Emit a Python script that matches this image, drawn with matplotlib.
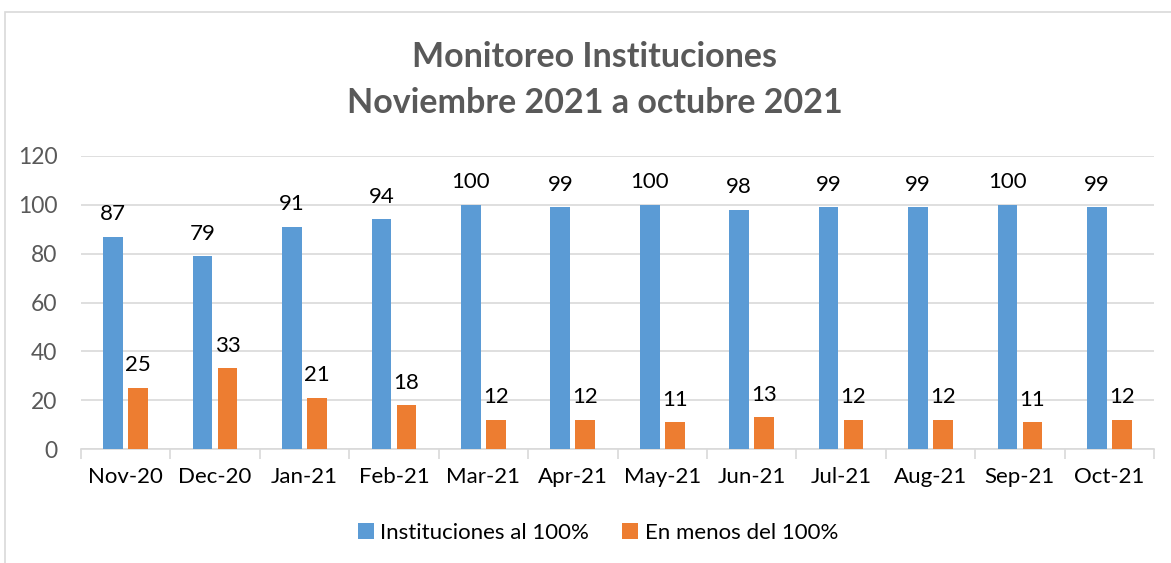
import matplotlib.pyplot as plt
import numpy as np
from matplotlib.patches import Rectangle

# datos
meses = ['Nov-20', 'Dec-20', 'Jan-21', 'Feb-21', 'Mar-21', 'Apr-21',
         'May-21', 'Jun-21', 'Jul-21', 'Aug-21', 'Sep-21', 'Oct-21']
al_100 = [87, 79, 91, 94, 100, 99, 100, 98, 99, 99, 100, 99]
menos_100 = [25, 33, 21, 18, 12, 12, 11, 13, 12, 12, 11, 12]
yticks = [0, 20, 40, 60, 80, 100, 120]

plt.rcParams['font.family'] = ['Lato', 'DejaVu Sans']

W, H = 1171, 563
fig = plt.figure(figsize=(W / 100, H / 100), dpi=100)
ax = fig.add_axes([81 / W, 1 - 449 / H, (1154 - 81) / W, (449 - 156) / H])

x = np.arange(len(meses))
bw = 0.22
azul = '#5B9BD5'
naranja = '#ED7D31'
b1 = ax.bar(x - 0.14, al_100, bw, color=azul, label='Instituciones al 100%', zorder=3)
b2 = ax.bar(x + 0.14, menos_100, bw, color=naranja, label='En menos del 100%', zorder=3)

for barras in (b1, b2):
    for r in barras:
        ax.annotate(str(int(r.get_height())),
                    (r.get_x() + r.get_width() / 2, r.get_height()),
                    xytext=(0, 9), textcoords='offset points',
                    ha='center', va='bottom', fontsize=16, color='#000000')

ax.set_xlim(-0.5, len(meses) - 0.5)
ax.set_ylim(0, 120)
ax.set_yticks(yticks)
ax.tick_params(axis='y', length=0, labelsize=16.5, labelcolor='#595959', pad=17)
ax.set_xticks(x)
ax.set_xticklabels(meses)
ax.tick_params(axis='x', length=0, labelsize=16, labelcolor='#000000', pad=13)
# marcas entre categorias
ax.set_xticks(np.arange(-0.5, len(meses), 1), minor=True)
ax.tick_params(axis='x', which='minor', length=7, color='#D9D9D9', width=1.2)

ax.grid(axis='y', color='#D9D9D9', linewidth=1.2, zorder=0)
for s in ['left', 'right', 'top']:
    ax.spines[s].set_visible(False)
ax.spines['bottom'].set_color('#D9D9D9')
ax.spines['bottom'].set_linewidth(1.2)

fig.text(595 / W, 1 - 57 / H, 'Monitoreo Instituciones', ha='center', va='center',
         fontsize=24.5, fontweight='bold', color='#595959')
fig.text(595 / W, 1 - 103 / H, 'Noviembre 2021 a octubre 2021', ha='center', va='center',
         fontsize=24.5, fontweight='bold', color='#595959')

fig.legend(handles=[b1, b2], loc='center', bbox_to_anchor=(598 / W, 1 - 533 / H),
           ncol=2, frameon=False, fontsize=16, handlelength=0.7, handleheight=0.7,
           handletextpad=0.3, columnspacing=1.5)

# borde del grafico
fig.patches.append(Rectangle((5 / W, -0.1), 1.2, (1 - 12 / H) + 0.1,
                             transform=fig.transFigure, fill=False,
                             edgecolor='#D9D9D9', linewidth=1.2))

fig.savefig('out.png', dpi=100)
